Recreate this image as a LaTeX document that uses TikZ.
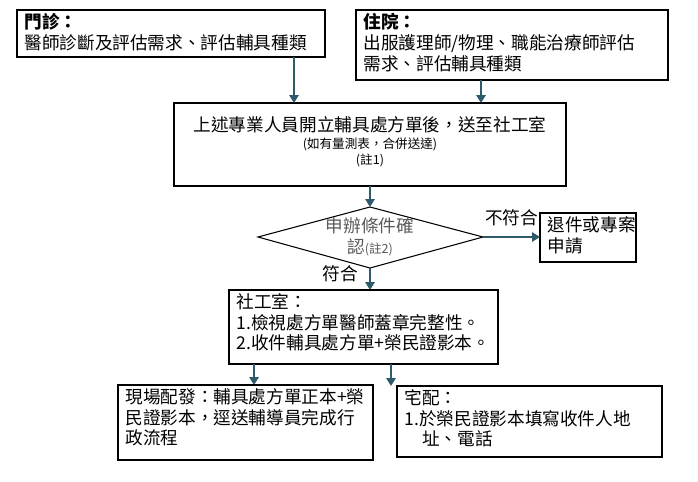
\documentclass[tikz,border=0pt]{standalone}
\usepackage{fontspec}
\setmainfont{Noto Sans CJK TC}
\usetikzlibrary{arrows.meta,shapes.geometric}
\definecolor{flowline}{HTML}{2E5A6B}
\begin{document}
\begin{tikzpicture}[x=0.0265cm,y=-0.0265cm,
  box/.style={draw=black,thick,anchor=north west,inner sep=3pt,font=\fontsize{13.3}{15.6}\selectfont},
  flow/.style={draw=flowline,line width=1.6pt,-{Triangle[length=6pt,width=7pt]}},
  lbl/.style={font=\fontsize{13.3}{15.6}\selectfont}]
\useasboundingbox (0,0) rectangle (698,481);
%top row
\draw[thick] (17,10) rectangle (325,57);
\node[box,draw=none,align=left] (clinic) at (20,9) {\textbf{門診：}\\醫師診斷及評估需求、評估輔具種類};
\draw[thick] (356,10) rectangle (668,80);
\node[box,draw=none,align=left] (ward) at (359,9) {\textbf{住院：}\\出服護理師/物理、職能治療師評估\\需求、評估輔具種類};
%referral
\draw[thick] (174,103) rectangle (566,186);
\node[align=center,lbl] (refer) at (370,142) {上述專業人員開立輔具處方單後，送至社工室\\[-3pt]{\fontsize{9.5}{11}\selectfont(如有量測表，合併送達)}\\[-3pt]{\fontsize{9.5}{11}\selectfont(註1)}};
\coordinate (c1) at (294,57);
\coordinate (c1b) at (294,103);
\coordinate (w1) at (481,80);
\coordinate (w1b) at (481,103);
\draw[flow] (c1) -- (c1b);
\draw[flow] (w1) -- (w1b);
%decision
\draw[thick] (258,237) -- (370,207) -- (483,237) -- (370,268) -- cycle;
\node[align=center,lbl,text=black!65] (check) at (370,237) {申辦條件確\\認{\fontsize{9.5}{11}\selectfont(註2)}};
\coordinate (r1) at (370,186);
\coordinate (r1b) at (370,207);
\draw[flow] (r1) -- (r1b);
\draw[thick] (540,213) rectangle (636,262);
\node[box,draw=none,align=left] (reject) at (543,212) {退件或專案\\申請};
\coordinate (d1) at (483,237);
\coordinate (d1b) at (540,237);
\draw[flow] (d1) -- (d1b) node[midway,above,lbl,yshift=4pt] {不符合};
\coordinate (d2) at (370,268);
\coordinate (d2b) at (370,290);
\draw[flow] (d2) -- (d2b);
\node[lbl] (ok) at (340,274) {符合};
%social work
\draw[thick] (229,290) rectangle (498,364);
\node[box,draw=none,align=left] (social) at (232,289) {社工室：\\1.檢視處方單醫師蓋章完整性。\\2.收件輔具處方單+榮民證影本。};
\coordinate (s1) at (254,364);
\coordinate (s1b) at (254,385);
\coordinate (s2) at (391,364);
\coordinate (s2b) at (391,386);
\draw[flow] (s1) -- (s1b);
\draw[flow] (s2) -- (s2b);
%bottom row
\draw[thick] (118,385) rectangle (373,460);
\node[box,draw=none,align=left] (onsite) at (121,384) {現場配發：輔具處方單正本+榮\\民證影本，逕送輔導員完成行\\政流程};
\draw[thick] (397,386) rectangle (662,457);
\node[box,draw=none,align=left] (home) at (400,385) {宅配：\\1.於榮民證影本填寫收件人地\\\hspace*{1em}址、電話};
\end{tikzpicture}
\end{document}
